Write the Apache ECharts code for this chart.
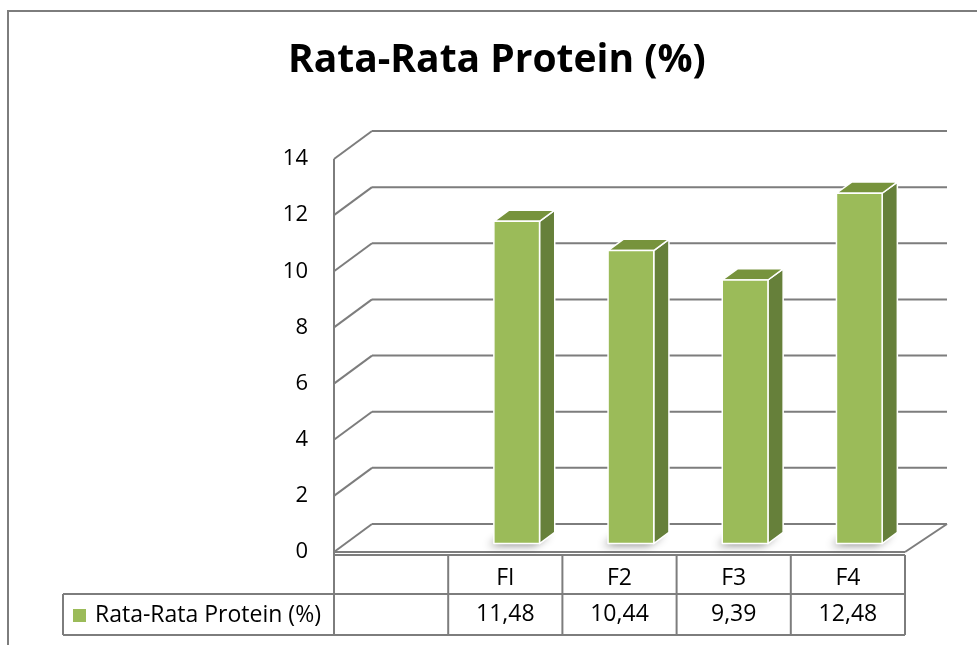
<!DOCTYPE html>
<html>
<head>
<meta charset="utf-8">
<script src="https://cdn.jsdelivr.net/npm/echarts@6/dist/echarts.min.js"></script>
<style>
  html, body { margin: 0; padding: 0; background: #fff; }
  #chart { width: 977px; height: 645px; }
</style>
</head>
<body>
<div id="chart"></div>
<script>
// Average protein per formula; the first slot is an empty category column.
const categories = ['', 'FI', 'F2', 'F3', 'F4'];
const protein = [null, 11.48, 10.44, 9.39, 12.48];
const seriesName = 'Rata-Rata Protein (%)';
const chartTitle = 'Rata-Rata Protein (%)';
const yMin = 0, yMax = 14, yStep = 2;

// Text shown in the data table row, comma as decimal separator.
const valueText = protein.map(v => (v == null ? '' : v.toFixed(2).replace('.', ',')));

// Styling / geometry of the pseudo-3D box
const FONT = "'Open Sans', sans-serif";
const LINE = '#7d7d7d';
const DX = 38, DY = -28;        // depth offset of the back wall
const DX_RIGHT = 42;            // slight perspective on the right edge
const BAR_FRONT = 0.3, BAR_DEPTH = 0.4, BAR_RATIO = 0.4;
const FACE = '#9BBB59', SIDE = '#66803A', TOPC = '#77933C';
const TABLE_TOP = 3, ROW1 = 42, ROW2 = 83;   // table rows below the floor
const LEGEND_CELL_LEFT = 63;

function seg(x1, y1, x2, y2, w) {
  return {
    type: 'line',
    shape: { x1, y1, x2, y2 },
    style: { stroke: LINE, lineWidth: w || 2 }
  };
}

// Walls, floor, gridlines and the data-table borders
function renderFrame(params, api) {
  const bw = api.size([1, 0])[0];
  const n = categories.length;
  const left = api.coord([0, yMin])[0] - bw / 2;
  const right = api.coord([n - 1, yMin])[0] + bw / 2;
  const y0 = api.coord([0, yMin])[1];
  const yTop = api.coord([0, yMax])[1];
  const kids = [];
  for (let v = yMin; v <= yMax; v += yStep) {
    const y = api.coord([0, v])[1];
    kids.push(seg(left, y, left + DX, y + DY));
    kids.push(seg(left + DX, y + DY, right + DX_RIGHT, y + DY));
  }
  // floor
  kids.push(seg(left, y0, right, y0));
  kids.push(seg(right, y0, right + DX_RIGHT, y0 + DY));
  // front value axis, running down through the table
  kids.push(seg(left, yTop, left, y0 + ROW2));
  // data table
  kids.push(seg(left, y0 + TABLE_TOP, right, y0 + TABLE_TOP));
  kids.push(seg(LEGEND_CELL_LEFT, y0 + ROW1, right, y0 + ROW1));
  kids.push(seg(LEGEND_CELL_LEFT, y0 + ROW2, right, y0 + ROW2));
  kids.push(seg(LEGEND_CELL_LEFT, y0 + ROW1, LEGEND_CELL_LEFT, y0 + ROW2));
  for (let k = 1; k <= n; k++) {
    const x = left + k * bw;
    kids.push(seg(x, y0 + TABLE_TOP, x, y0 + ROW2));
  }
  return { type: 'group', children: kids };
}

// 3D column: front, side and top faces plus a soft base shadow
function renderBar(params, api) {
  const i = api.value(0), v = api.value(1);
  const top = api.coord([i, v]);
  const base = api.coord([i, yMin]);
  const bw = api.size([1, 0])[0];
  const w = bw * BAR_RATIO;
  const fx = top[0] - w / 2 + DX * BAR_FRONT;
  const ty = top[1] + DY * BAR_FRONT;
  const by = base[1] + DY * BAR_FRONT;
  const ddx = DX * BAR_DEPTH, ddy = DY * BAR_DEPTH;
  const edge = { stroke: '#ffffff', lineWidth: 1.5, lineJoin: 'round' };
  return {
    type: 'group',
    children: [
      {
        type: 'polygon',
        shape: { points: [[fx, by], [fx + w, by], [fx + w + ddx, by + ddy], [fx + ddx, by + ddy]] },
        style: { fill: FACE, shadowBlur: 8, shadowOffsetX: -5, shadowOffsetY: 2, shadowColor: 'rgba(0,0,0,0.45)' }
      },
      {
        type: 'polygon',
        shape: { points: [[fx + w, ty], [fx + w + ddx, ty + ddy], [fx + w + ddx, by + ddy], [fx + w, by]] },
        style: Object.assign({ fill: SIDE }, edge)
      },
      {
        type: 'polygon',
        shape: { points: [[fx, ty], [fx + ddx, ty + ddy], [fx + w + ddx, ty + ddy], [fx + w, ty]] },
        style: Object.assign({ fill: TOPC }, edge)
      },
      {
        type: 'rect',
        shape: { x: fx, y: ty, width: w, height: by - ty },
        style: Object.assign({ fill: FACE }, edge)
      }
    ]
  };
}

const chart = echarts.init(document.getElementById('chart'), null, { renderer: 'canvas' });

chart.setOption({
  animation: false,
  backgroundColor: '#ffffff',
  title: {
    text: chartTitle,
    left: 288,
    top: 41,
    padding: 0,
    textStyle: { fontFamily: FONT, fontSize: 39, fontWeight: 'bold', color: '#000' }
  },
  legend: {
    data: [{ name: seriesName, icon: 'rect' }],
    left: 73,
    top: 604,
    padding: 0,
    itemWidth: 13,
    itemHeight: 13,
    selectedMode: false,
    textStyle: { fontFamily: FONT, fontSize: 23, color: '#000', padding: [0, 0, 0, 4] }
  },
  graphic: [{
    type: 'polyline',
    shape: { points: [[8, 645], [8, 11], [977, 11]] },
    style: { stroke: LINE, lineWidth: 2, fill: null },
    silent: true
  }],
  grid: { left: 334, right: 72, top: 159, bottom: 93, containLabel: false },
  xAxis: [
    {
      type: 'category',
      data: categories,
      boundaryGap: true,
      axisLine: { show: false },
      axisTick: { show: false },
      splitLine: { show: false },
      axisLabel: { margin: 15, fontFamily: FONT, fontSize: 23, color: '#000' }
    },
    {
      type: 'category',
      data: valueText,
      position: 'bottom',
      boundaryGap: true,
      axisLine: { show: false },
      axisTick: { show: false },
      splitLine: { show: false },
      axisLabel: { margin: 51, fontFamily: FONT, fontSize: 23, color: '#000' }
    }
  ],
  yAxis: {
    type: 'value',
    min: yMin,
    max: yMax,
    interval: yStep,
    axisLine: { show: false },
    axisTick: { show: false },
    splitLine: { show: false },
    axisLabel: { margin: 26, fontFamily: FONT, fontSize: 22, color: '#000' }
  },
  series: [
    {
      type: 'custom',
      name: 'frame',
      z: 1,
      silent: true,
      renderItem: renderFrame,
      data: [[0, yMin]],
      encode: { x: 0, y: 1 }
    },
    {
      type: 'custom',
      name: seriesName,
      z: 3,
      itemStyle: { color: FACE },
      renderItem: renderBar,
      data: protein.map((v, i) => [i, v]).filter(d => d[1] != null),
      encode: { x: 0, y: 1 }
    }
  ]
});
</script>
</body>
</html>
